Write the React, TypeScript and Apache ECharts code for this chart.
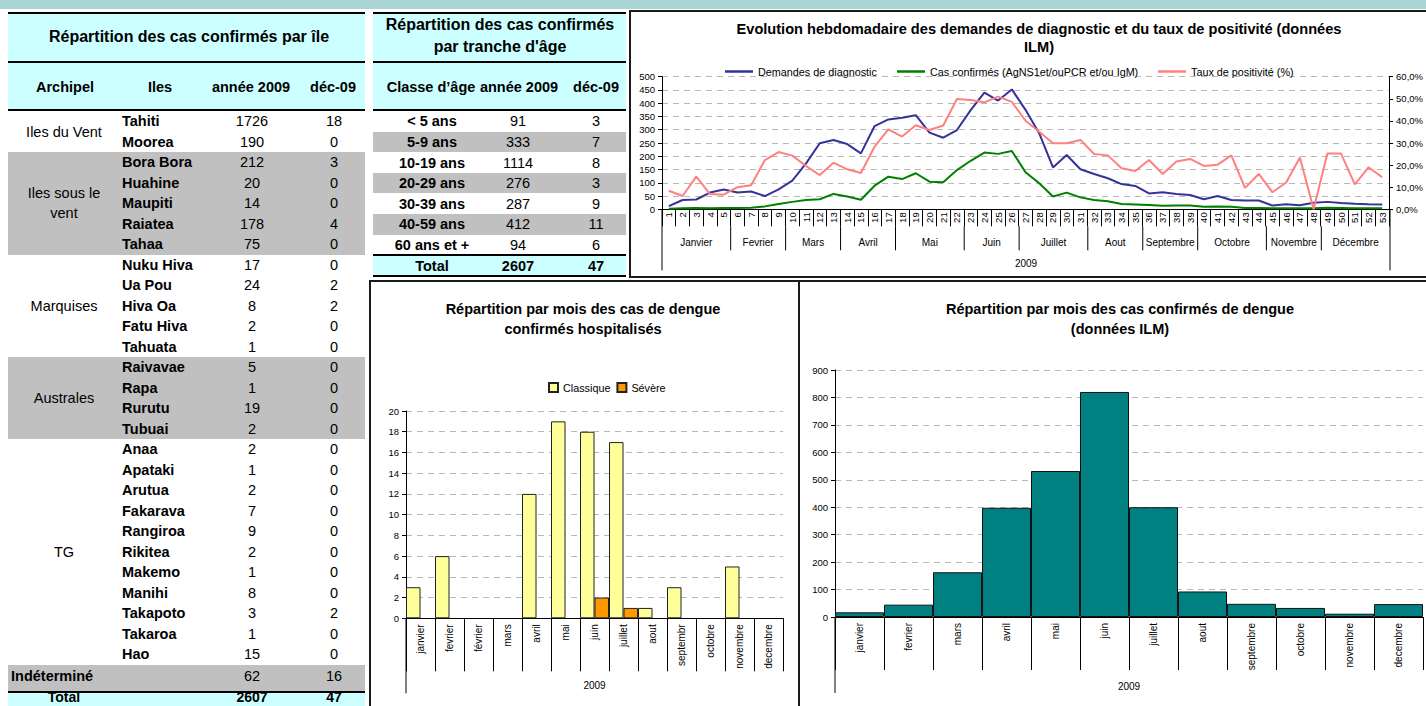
import React, { useEffect, useRef } from "react";
import * as echarts from "echarts";

const FONT = '"Liberation Sans", Arial, Helvetica, sans-serif';

// ---------- Tables data ----------
const islandNames = ["Tahiti", "Moorea", "Bora Bora", "Huahine", "Maupiti", "Raiatea", "Tahaa", "Nuku Hiva", "Ua Pou", "Hiva Oa", "Fatu Hiva", "Tahuata", "Raivavae", "Rapa", "Rurutu", "Tubuai", "Anaa", "Apataki", "Arutua", "Fakarava", "Rangiroa", "Rikitea", "Makemo", "Manihi", "Takapoto", "Takaroa", "Hao"];
const islandYear = [1726, 190, 212, 20, 14, 178, 75, 17, 24, 8, 2, 1, 5, 1, 19, 2, 2, 1, 2, 7, 9, 2, 1, 8, 3, 1, 15];
const islandDec = [18, 0, 3, 0, 0, 4, 0, 0, 2, 2, 0, 0, 0, 0, 0, 0, 0, 0, 0, 0, 0, 0, 0, 0, 2, 0, 0];
const archipelNames = ["Iles du Vent", "Iles sous le\nvent", "Marquises", "Australes", "TG"];
const archipelFirstRow = [0, 2, 7, 12, 16];
const archipelRowCount = [2, 5, 5, 4, 11];
const archipelShaded = [false, true, false, true, false];
const undeterminedLabel = "Indéterminé";
const undeterminedYear = 62;
const undeterminedDec = 16;
const totalYear = 2607;
const totalDec = 47;

const ageClasses = ["< 5 ans", "5-9 ans", "10-19 ans", "20-29 ans", "30-39 ans", "40-59 ans", "60 ans et +"];
const ageYear = [91, 333, 1114, 276, 287, 412, 94];
const ageDec = [3, 7, 8, 3, 9, 11, 6];

// ---------- Weekly chart data ----------
const weekLabels = ["1", "2", "3", "4", "5", "6", "7", "8", "9", "10", "11", "12", "13", "14", "15", "16", "17", "18", "19", "20", "21", "22", "23", "24", "25", "26", "27", "28", "29", "30", "31", "32", "33", "34", "35", "36", "37", "38", "39", "40", "41", "42", "43", "44", "45", "46", "47", "48", "49", "50", "51", "52", "53"];
const demandes = [12, 35, 37, 63, 75, 63, 67, 50, 75, 108, 173, 249, 261, 246, 211, 314, 339, 345, 355, 289, 270, 299, 374, 440, 410, 452, 375, 286, 158, 205, 151, 133, 117, 95, 88, 60, 64, 58, 54, 38, 50, 35, 33, 33, 14, 19, 15, 25, 28, 24, 21, 19, 18];
const confirmes = [2, 4, 5, 4, 5, 5, 6, 11, 20, 28, 35, 38, 58, 48, 36, 89, 123, 114, 136, 104, 102, 148, 183, 214, 209, 220, 140, 98, 48, 63, 45, 35, 30, 20, 18, 16, 13, 14, 14, 10, 11, 10, 5, 5, 4, 4, 4, 4, 6, 5, 4, 4, 4];
const tauxPositivite = [8.4, 6.0, 14.8, 6.9, 6.6, 10.0, 10.9, 22.3, 25.9, 24.3, 19.6, 15.5, 21.1, 18.1, 16.4, 28.4, 36.2, 32.9, 38.0, 35.9, 37.9, 49.9, 49.5, 48.4, 51.0, 48.6, 40.1, 35.1, 29.9, 29.9, 31.4, 25.0, 24.4, 18.6, 17.3, 22.3, 16.0, 21.6, 22.8, 19.6, 20.2, 24.4, 9.7, 16.0, 7.7, 12.1, 23.4, 0.0, 25.2, 25.2, 11.3, 19.0, 14.5];
const monthNames = ["Janvier", "Fevrier", "Mars", "Avril", "Mai", "Juin", "Juillet", "Aout", "Septembre", "Octobre", "Novembre", "Décembre"];
const monthStartWeek = [1, 6, 10, 14, 18, 23, 27, 32, 36, 40, 45, 49];
const monthEndWeek = [5, 9, 13, 17, 22, 26, 31, 35, 39, 44, 48, 53];
const yearLabel = "2009";
const seriesNames = ["Demandes de diagnostic", "Cas confirmés (AgNS1et/ouPCR et/ou IgM)", "Taux de positivité (%)"];

// ---------- Hospitalised chart data ----------
const hospMonths = ["janvier", "fevrier", "février", "mars", "avril", "mai", "juin", "juillet", "aout", "septembr", "octobre", "novembre", "decembre"];
const hospClassique = [3, 6, 0, 0, 12, 19, 18, 17, 1, 3, 0, 5, 0];
const hospSevere = [0, 0, 0, 0, 0, 0, 2, 1, 0, 0, 0, 0, 0];

// ---------- ILM monthly chart data ----------
const ilmMonths = ["janvier", "fevrier", "mars", "avril", "mai", "juin", "juillet", "aout", "septembre", "octobre", "novembre", "decembre"];
const ilmCases = [17, 45, 163, 398, 532, 820, 400, 93, 48, 33, 12, 47];

// ---------- helpers ----------
const CYAN = "#CCFFFF";
const GRAY = "#C0C0C0";

function Box(p: { l: number; t: number; w: number; h: number; bg: string }) {
  return <div style={{ position: "absolute", left: p.l, top: p.t, width: p.w, height: p.h, background: p.bg }} />;
}

function Txt(p: { x: number; y: number; text: string | number; bold?: boolean; size?: number; align?: string; lh?: number }) {
  const center = (p.align || "center") === "center";
  return (
    <div
      style={{
        position: "absolute",
        left: p.x,
        top: p.y,
        transform: center ? "translate(-50%,-50%)" : "translate(0,-50%)",
        fontFamily: FONT,
        fontSize: p.size || 14.5,
        fontWeight: p.bold ? 700 : 400,
        whiteSpace: "pre",
        textAlign: "center",
        lineHeight: (p.lh || 16) + "px",
        color: "#000",
      }}
    >
      {String(p.text)}
    </div>
  );
}

const axisText = { color: "#000", fontFamily: FONT };
const dashed = { show: true, lineStyle: { color: "#b8b8b8", type: [6, 5] as any, width: 1 } };

function useEChart(ref: any, option: any) {
  useEffect(() => {
    const c = echarts.init(ref.current, null, { renderer: "svg" });
    c.setOption(option);
    return () => c.dispose();
  }, []);
}

function WeeklyChart() {
  const ref = useRef<HTMLDivElement>(null);
  const lastIdx = monthNames.length - 1;
  const option = {
    animation: false,
    textStyle: { fontFamily: FONT },
    graphic: [
      {
        type: "text",
        x: 410,
        y: 10,
        style: {
          text: "Evolution hebdomadaire des demandes de diagnostic et du taux de positivité (données\nILM)",
          align: "center",
          verticalAlign: "top",
          fontSize: 14.6,
          fontWeight: "bold",
          fontFamily: FONT,
          lineHeight: 18,
          fill: "#000",
        },
      },
    ],
    legend: [91, 263, 524].map((left, i) => ({
      data: [seriesNames[i]],
      left,
      top: 51,
      icon: "rect",
      itemWidth: 28,
      itemHeight: 2.5,
      textStyle: { fontSize: 10.8, color: "#000", fontFamily: FONT },
    })),
    grid: [
      { left: 33, right: 36, top: 66.7, height: 132.6 },
      { left: 33, right: 36, top: 199.3, height: 61 },
    ],
    xAxis: [
      {
        type: "category",
        gridIndex: 0,
        data: weekLabels,
        boundaryGap: true,
        axisLine: { lineStyle: { color: "#000", width: 1 } },
        axisTick: { show: true, interval: 0, length: 17, lineStyle: { color: "#000" } },
        axisLabel: { interval: 0, rotate: 90, fontSize: 9.5, margin: 3, ...axisText },
        splitLine: { show: false },
      },
      { type: "value", gridIndex: 1, min: 0.5, max: 53.5, show: false },
    ],
    yAxis: [
      {
        type: "value",
        gridIndex: 0,
        min: 0,
        max: 500,
        interval: 50,
        axisLine: { show: true, lineStyle: { color: "#000" } },
        axisTick: { show: true, length: 4, lineStyle: { color: "#000" } },
        axisLabel: { fontSize: 9.5, margin: 7, ...axisText },
        splitLine: dashed,
      },
      {
        type: "value",
        gridIndex: 0,
        position: "right",
        min: 0,
        max: 60,
        interval: 10,
        axisLine: { show: true, lineStyle: { color: "#000" } },
        axisTick: { show: true, length: 4, lineStyle: { color: "#000" } },
        axisLabel: {
          fontSize: 9.5,
          margin: 7,
          ...axisText,
          formatter: (v: number) => v.toFixed(1).replace(".", ",") + "%",
        },
        splitLine: { show: false },
      },
      { type: "value", gridIndex: 1, min: 0, max: 1, show: false },
    ],
    series: [
      {
        name: seriesNames[0],
        type: "line",
        data: demandes,
        symbol: "none",
        color: "#333399",
        lineStyle: { width: 2, color: "#333399" },
      },
      {
        name: seriesNames[1],
        type: "line",
        data: confirmes,
        symbol: "none",
        color: "#008000",
        lineStyle: { width: 2, color: "#008000" },
      },
      {
        name: seriesNames[2],
        type: "line",
        yAxisIndex: 1,
        data: tauxPositivite,
        symbol: "none",
        color: "#FF8080",
        lineStyle: { width: 2, color: "#FF8080" },
      },
      {
        type: "custom",
        xAxisIndex: 1,
        yAxisIndex: 2,
        silent: true,
        data: monthNames.map((_, i) => [monthStartWeek[i], monthEndWeek[i]]),
        renderItem: (params: any, api: any) => {
          const idx = params.dataIndex;
          const cs = params.coordSys;
          const xl = api.coord([api.value(0) - 0.5, 0])[0];
          const xr = api.coord([api.value(1) + 0.5, 0])[0];
          const children: any[] = [
            {
              type: "text",
              style: {
                text: monthNames[idx],
                x: (xl + xr) / 2,
                y: cs.y + 33,
                align: "center",
                verticalAlign: "middle",
                fontSize: 10,
                fontFamily: FONT,
                fill: "#000",
              },
            },
          ];
          if (idx < lastIdx) {
            children.push({ type: "line", shape: { x1: xr, y1: cs.y + 17, x2: xr, y2: cs.y + 41 }, style: { stroke: "#000", lineWidth: 1 } });
          }
          if (idx === 0) {
            children.push({ type: "line", shape: { x1: cs.x, y1: cs.y, x2: cs.x, y2: cs.y + cs.height }, style: { stroke: "#000", lineWidth: 1 } });
            children.push({
              type: "text",
              style: { text: yearLabel, x: cs.x + cs.width / 2, y: cs.y + 54, align: "center", verticalAlign: "middle", fontSize: 10, fontFamily: FONT, fill: "#000" },
            });
          }
          if (idx === lastIdx) {
            children.push({ type: "line", shape: { x1: cs.x + cs.width, y1: cs.y, x2: cs.x + cs.width, y2: cs.y + cs.height }, style: { stroke: "#000", lineWidth: 1 } });
          }
          return { type: "group", children };
        },
      },
    ],
  };
  useEChart(ref, option);
  return <div ref={ref} style={{ position: "absolute", left: 629, top: 10, width: 797, height: 268 }} />;
}

function yearRowSeries(textOffset: number) {
  return {
    type: "custom",
    xAxisIndex: 1,
    yAxisIndex: 1,
    silent: true,
    data: [[0]],
    renderItem: (params: any) => {
      const cs = params.coordSys;
      return {
        type: "group",
        children: [
          { type: "line", shape: { x1: cs.x, y1: cs.y, x2: cs.x, y2: cs.y + cs.height }, style: { stroke: "#000", lineWidth: 1 } },
          {
            type: "text",
            style: { text: yearLabel, x: cs.x + cs.width / 2, y: cs.y + textOffset, align: "center", verticalAlign: "middle", fontSize: 10, fontFamily: FONT, fill: "#000" },
          },
        ],
      };
    },
  };
}

function HospChart() {
  const ref = useRef<HTMLDivElement>(null);
  const option = {
    animation: false,
    textStyle: { fontFamily: FONT },
    graphic: [
      {
        type: "text",
        x: 214,
        y: 19,
        style: {
          text: "Répartition par mois des cas de dengue\nconfirmés hospitalisés",
          align: "center",
          verticalAlign: "top",
          fontSize: 14.5,
          fontWeight: "bold",
          fontFamily: FONT,
          lineHeight: 20,
          fill: "#000",
        },
      },
    ],
    legend: {
      data: ["Classique", "Sévère"],
      left: 174,
      top: 97,
      icon: "rect",
      itemWidth: 9,
      itemHeight: 9,
      itemGap: 6,
      textStyle: { fontSize: 10.8, color: "#000", fontFamily: FONT },
    },
    grid: [
      { left: 37, right: 15, top: 131, height: 207.3 },
      { left: 37, right: 15, top: 338.3, height: 75 },
    ],
    xAxis: [
      {
        type: "category",
        data: hospMonths,
        boundaryGap: true,
        axisLine: { lineStyle: { color: "#000" } },
        axisTick: { show: true, interval: 0, length: 53, lineStyle: { color: "#000" } },
        axisLabel: { interval: 0, rotate: 90, fontSize: 10, margin: 6, ...axisText },
      },
      { type: "value", gridIndex: 1, min: 0, max: 1, show: false },
    ],
    yAxis: [
      {
        type: "value",
        min: 0,
        max: 20,
        interval: 2,
        axisLine: { show: true, lineStyle: { color: "#000" } },
        axisTick: { show: true, length: 4, lineStyle: { color: "#000" } },
        axisLabel: { fontSize: 9.5, margin: 7, ...axisText },
        splitLine: dashed,
      },
      { type: "value", gridIndex: 1, min: 0, max: 1, show: false },
    ],
    series: [
      {
        name: "Classique",
        type: "bar",
        data: hospClassique.map((v) => (v === 0 ? null : v)),
        barGap: "0%",
        barCategoryGap: "0%",
        itemStyle: { color: "#FFFF99", borderColor: "#222", borderWidth: 1 },
      },
      {
        name: "Sévère",
        type: "bar",
        data: hospSevere.map((v) => (v === 0 ? null : v)),
        barGap: "0%",
        barCategoryGap: "0%",
        itemStyle: { color: "#FF9900", borderColor: "#222", borderWidth: 1 },
      },
      yearRowSeries(67),
    ],
  };
  useEChart(ref, option);
  return <div ref={ref} style={{ position: "absolute", left: 369, top: 280, width: 429, height: 426 }} />;
}

function IlmChart() {
  const ref = useRef<HTMLDivElement>(null);
  const option = {
    animation: false,
    textStyle: { fontFamily: FONT },
    graphic: [
      {
        type: "text",
        x: 321,
        y: 19,
        style: {
          text: "Répartition par mois des cas confirmés de dengue\n(données ILM)",
          align: "center",
          verticalAlign: "top",
          fontSize: 14.5,
          fontWeight: "bold",
          fontFamily: FONT,
          lineHeight: 20,
          fill: "#000",
        },
      },
    ],
    grid: [
      { left: 36, right: 3, top: 90, height: 247 },
      { left: 36, right: 3, top: 337, height: 76 },
    ],
    xAxis: [
      {
        type: "category",
        data: ilmMonths,
        boundaryGap: true,
        axisLine: { lineStyle: { color: "#000" } },
        axisTick: { show: true, interval: 0, length: 53, lineStyle: { color: "#000" } },
        axisLabel: { interval: 0, rotate: 90, fontSize: 10, margin: 6, ...axisText },
      },
      { type: "value", gridIndex: 1, min: 0, max: 1, show: false },
    ],
    yAxis: [
      {
        type: "value",
        min: 0,
        max: 900,
        interval: 100,
        axisLine: { show: true, lineStyle: { color: "#000" } },
        axisTick: { show: true, length: 4, lineStyle: { color: "#000" } },
        axisLabel: { fontSize: 9.5, margin: 7, ...axisText },
        splitLine: dashed,
      },
      { type: "value", gridIndex: 1, min: 0, max: 1, show: false },
    ],
    series: [
      {
        name: "Cas confirmés",
        type: "bar",
        data: ilmCases,
        barCategoryGap: "0%",
        itemStyle: { color: "#008080", borderColor: "#111", borderWidth: 1 },
      },
      yearRowSeries(69),
    ],
  };
  useEChart(ref, option);
  return <div ref={ref} style={{ position: "absolute", left: 799, top: 280, width: 627, height: 426 }} />;
}

function IslandTable() {
  const x0 = 8;
  const w = 357;
  const rowH = 20.5;
  const top0 = 111;
  const rowTop = (i: number) => top0 + i * rowH;
  const els: any[] = [];
  els.push(<Box key="hdr" l={x0} t={12} w={w} h={98} bg={CYAN} />);
  archipelNames.forEach((_, g) => {
    if (archipelShaded[g]) {
      els.push(<Box key={"sh" + g} l={x0} t={rowTop(archipelFirstRow[g])} w={w} h={archipelRowCount[g] * rowH} bg={GRAY} />);
    }
  });
  const undTop = rowTop(islandNames.length);
  els.push(<Box key="und" l={x0} t={undTop} w={w} h={691 - undTop} bg={GRAY} />);
  els.push(<Box key="tot" l={x0} t={693} w={w} h={14} bg={CYAN} />);
  [12, 61, 109, 691].forEach((y, i) => els.push(<Box key={"ln" + i} l={x0} t={y} w={w} h={2} bg="#000" />));
  els.push(<Txt key="title" x={189} y={37} text="Répartition des cas confirmés par île" bold size={16} />);
  els.push(<Txt key="h1" x={65} y={87} text="Archipel" bold />);
  els.push(<Txt key="h2" x={160} y={87} text="Iles" bold />);
  els.push(<Txt key="h3" x={251} y={87} text="année 2009" bold />);
  els.push(<Txt key="h4" x={333} y={87} text="déc-09" bold />);
  archipelNames.forEach((n, g) => {
    const yc = rowTop(archipelFirstRow[g]) + (archipelRowCount[g] * rowH) / 2;
    els.push(<Txt key={"a" + g} x={64} y={yc} text={n} lh={20} />);
  });
  islandNames.forEach((n, i) => {
    const yc = rowTop(i) + rowH / 2;
    els.push(<Txt key={"n" + i} x={122} y={yc} text={n} bold align="left" />);
    els.push(<Txt key={"y" + i} x={252} y={yc} text={islandYear[i]} />);
    els.push(<Txt key={"d" + i} x={334} y={yc} text={islandDec[i]} />);
  });
  const uy = undTop + rowH / 2 + 1;
  els.push(<Txt key="un" x={11} y={uy} text={undeterminedLabel} bold align="left" />);
  els.push(<Txt key="uy" x={252} y={uy} text={undeterminedYear} />);
  els.push(<Txt key="ud" x={334} y={uy} text={undeterminedDec} />);
  els.push(<Txt key="tn" x={64} y={697} text="Total" bold size={14} lh={14} />);
  els.push(<Txt key="ty" x={252} y={697} text={totalYear} bold size={14} lh={14} />);
  els.push(<Txt key="td" x={334} y={697} text={totalDec} bold size={14} lh={14} />);
  return <>{els}</>;
}

function AgeTable() {
  const x0 = 373;
  const w = 253;
  const rowH = 20.6;
  const top0 = 111;
  const els: any[] = [];
  els.push(<Box key="hdr" l={x0} t={12} w={w} h={98} bg={CYAN} />);
  ageClasses.forEach((_, i) => {
    if (i % 2 === 1) els.push(<Box key={"g" + i} l={x0} t={top0 + i * rowH} w={w} h={rowH} bg={GRAY} />);
  });
  els.push(<Box key="tot" l={x0} t={256} w={w} h={19} bg={CYAN} />);
  [12, 61, 109, 254, 275].forEach((y, i) => els.push(<Box key={"ln" + i} l={x0} t={y} w={w} h={2} bg="#000" />));
  els.push(<Txt key="title" x={500} y={36} text={"Répartition des cas confirmés\npar tranche d'âge"} bold size={16} lh={22} />);
  els.push(<Txt key="h1" x={431} y={87} text="Classe d’âge" bold />);
  els.push(<Txt key="h2" x={519} y={87} text="année 2009" bold />);
  els.push(<Txt key="h3" x={596} y={87} text="déc-09" bold />);
  ageClasses.forEach((n, i) => {
    const yc = top0 + i * rowH + rowH / 2;
    els.push(<Txt key={"n" + i} x={432} y={yc} text={n} bold />);
    els.push(<Txt key={"y" + i} x={518} y={yc} text={ageYear[i]} />);
    els.push(<Txt key={"d" + i} x={596} y={yc} text={ageDec[i]} />);
  });
  els.push(<Txt key="tn" x={432} y={265.5} text="Total" bold />);
  els.push(<Txt key="ty" x={518} y={265.5} text={totalYear} bold />);
  els.push(<Txt key="td" x={596} y={265.5} text={totalDec} bold />);
  return <>{els}</>;
}

function Frame(p: { l: number; t: number; w: number; h: number }) {
  return (
    <div
      style={{
        position: "absolute",
        left: p.l,
        top: p.t,
        width: p.w,
        height: p.h,
        border: "2px solid #1a1a1a",
        boxSizing: "border-box",
        pointerEvents: "none",
      }}
    />
  );
}

export default function App() {
  return (
    <div style={{ position: "absolute", left: 0, top: 0, width: 1426, height: 706, overflow: "hidden", background: "#fff", fontFamily: FONT }}>
      <div style={{ position: "absolute", left: 0, top: 0, width: 1426, height: 9, background: "#A9D5D5" }} />
      <IslandTable />
      <AgeTable />
      <WeeklyChart />
      <HospChart />
      <IlmChart />
      <Frame l={629} t={10} w={800} h={268} />
      <Frame l={369} t={280} w={431} h={440} />
      <Frame l={798} t={280} w={640} h={440} />
    </div>
  );
}
